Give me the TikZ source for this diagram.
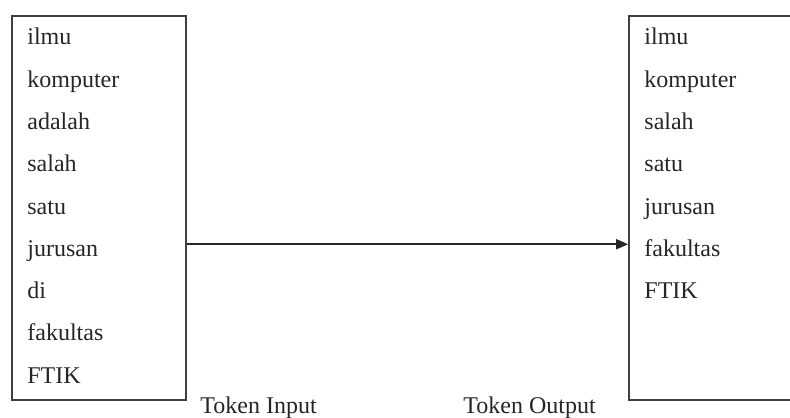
\documentclass[tikz,border=0pt]{standalone}
\usepackage{fontspec}
\setmainfont{Liberation Serif}
\usetikzlibrary{arrows.meta,positioning}

\begin{document}
\begin{tikzpicture}[x=0.5pt, y=-0.5pt, font=\fontsize{12}{14}\selectfont,
                    >={Triangle[length=6pt,width=5pt]}]
\tikzstyle{box}=[draw=black!75, line width=0.8pt, rectangle, inner sep=0pt]
\tikzstyle{word}=[anchor=base west, inner sep=0pt, text=black!85,
                  text height=12pt, text depth=0pt]

\useasboundingbox (0,0) rectangle (790,417);

\node [box, minimum width=87pt, minimum height=192pt] (inbox) at (99,208) {};
\node [box, minimum width=95pt, minimum height=192pt] (outbox) at (724,208) {};

\foreach \w [count=\i] in {ilmu,komputer,adalah,salah,satu,jurusan,di,fakultas,FTIK}
  \node [word] (in\i) at (27,{45+42.25*(\i-1)}) {\w};

\foreach \w [count=\i] in {ilmu,komputer,salah,satu,jurusan,fakultas,FTIK}
  \node [word] (out\i) at (644,{45+42.25*(\i-1)}) {\w};

\node [word] (lblin) at (200,413) {Token Input};
\node [word] (lblout) at (463,413) {Token Output};

\draw [->, line width=0.8pt, black!85] (in6 -| inbox.east) -- (out6 -| outbox.west);
\end{tikzpicture}
\end{document}
